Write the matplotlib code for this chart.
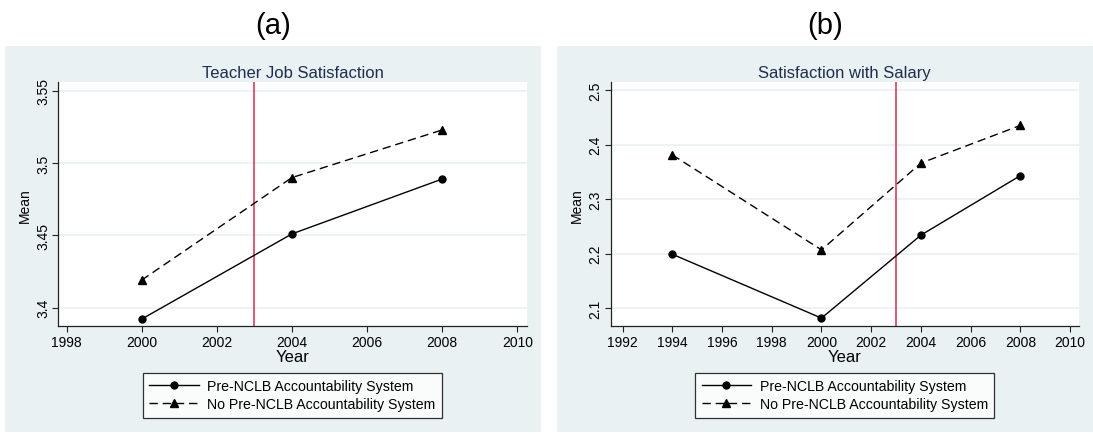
"""Two-panel Stata-style line chart: teacher satisfaction by accountability status."""
import matplotlib
matplotlib.use('Agg')
import matplotlib.pyplot as plt
from matplotlib.patches import Rectangle
from matplotlib.lines import Line2D

plt.rcParams['font.family'] = ['Liberation Sans', 'DejaVu Sans']

# ── Data 
YEARS_A = [2000, 2004, 2008]
PRE_A = [3.392, 3.451, 3.489]
NOPRE_A = [3.419, 3.490, 3.523]

YEARS_B = [1994, 2000, 2004, 2008]
PRE_B = [2.199, 2.082, 2.234, 2.343]
NOPRE_B = [2.381, 2.207, 2.366, 2.435]

XTICKS_A = [1998, 2000, 2002, 2004, 2006, 2008, 2010]
YTICKS_A = [3.4, 3.45, 3.5, 3.55]
YTICKLABELS_A = ['3.4', '3.45', '3.5', '3.55']

XTICKS_B = [1992, 1994, 1996, 1998, 2000, 2002, 2004, 2006, 2008, 2010]
YTICKS_B = [2.1, 2.2, 2.3, 2.4, 2.5]
YTICKLABELS_B = ['2.1', '2.2', '2.3', '2.4', '2.5']

NCLB_YEAR = 2003
LABELS = ['Pre-NCLB Accountability System', 'No Pre-NCLB Accountability System']

# ── Style 
W, H = 1093, 435
BG = '#E9F1F3'
TITLE_COL = '#1F2D4E'
RED = '#D42E50'
GRID = '#E9F1F3'
DASH = (0, (6, 3.5))


def box(x0, y0, x1, y1):
    """pixel box (top-left origin) -> figure fraction rect"""
    return [x0 / W, 1 - y1 / H, (x1 - x0) / W, (y1 - y0) / H]


fig = plt.figure(figsize=(W / 100, H / 100), dpi=100)

# panel backgrounds
for x0, x1 in [(5, 541), (557, 1093)]:
    b = box(x0, 47, x1, 433)
    fig.patches.append(Rectangle((b[0], b[1]), b[2], b[3], transform=fig.transFigure,
                                 facecolor=BG, edgecolor='none', zorder=-5))

fig.text(273 / W, 1 - 26 / H, '(a)', ha='center', va='center', fontsize=21)
fig.text(825 / W, 1 - 26 / H, '(b)', ha='center', va='center', fontsize=21)


def draw_panel(ax, years, pre, nopre, title, xticks, xlim, yticks, yticklabels, ylim):
    ax.set_facecolor('white')
    for y in yticks:
        ax.axhline(y, color=GRID, lw=1.2, zorder=0)
    ax.axvline(NCLB_YEAR, color=RED, lw=1.1, zorder=1)
    ax.plot(years, pre, color='black', lw=1.0, marker='o', ms=5, zorder=3)
    ax.plot(years, nopre, color='black', lw=1.0, ls=DASH, marker='^', ms=5.5, zorder=3)

    ax.set_xlim(*xlim)
    ax.set_ylim(*ylim)
    ax.set_xticks(xticks)
    ax.set_yticks(yticks)
    ax.set_yticklabels(yticklabels, rotation=90, va='center')
    ax.tick_params(axis='both', labelsize=10, length=4, width=0.8, color='#222222', pad=2)
    for s in ['top', 'right']:
        ax.spines[s].set_visible(False)
    for s in ['left', 'bottom']:
        ax.spines[s].set_color('#222222')
        ax.spines[s].set_linewidth(0.9)

    ax.set_xlabel('Year', fontsize=12, labelpad=0)
    ax.set_ylabel('Mean', fontsize=10, labelpad=3)
    ax.set_title(title, fontsize=12, color=TITLE_COL, pad=4)


ax1 = fig.add_axes(box(58.3, 83.3, 526.7, 327.3))
draw_panel(ax1, YEARS_A, PRE_A, NOPRE_A, 'Teacher Job Satisfaction',
           XTICKS_A, (1997.78, 2010.25), YTICKS_A, YTICKLABELS_A, (3.387, 3.556))

ax2 = fig.add_axes(box(610.7, 83.3, 1079, 327.3))
draw_panel(ax2, YEARS_B, PRE_B, NOPRE_B, 'Satisfaction with Salary',
           XTICKS_B, (1991.52, 2010.36), YTICKS_B, YTICKLABELS_B, (2.067, 2.514))

# legends
handles = [
    Line2D([], [], color='black', lw=1.0, marker='o', ms=5),
    Line2D([], [], color='black', lw=1.0, ls=DASH, marker='^', ms=5.5),
]
for cx in [292.5, 844.8]:
    leg = fig.legend(handles, LABELS, loc='center', bbox_to_anchor=(cx / W, 1 - 396 / H),
                     fontsize=10.2, frameon=True, fancybox=False, handlelength=3.5,
                     handletextpad=0.6, borderpad=0.45, labelspacing=0.3, borderaxespad=0)
    leg.get_frame().set_edgecolor('black')
    leg.get_frame().set_linewidth(0.9)
    leg.get_frame().set_facecolor('white')

fig.savefig('out.png', dpi=100)
plt.close(fig)
